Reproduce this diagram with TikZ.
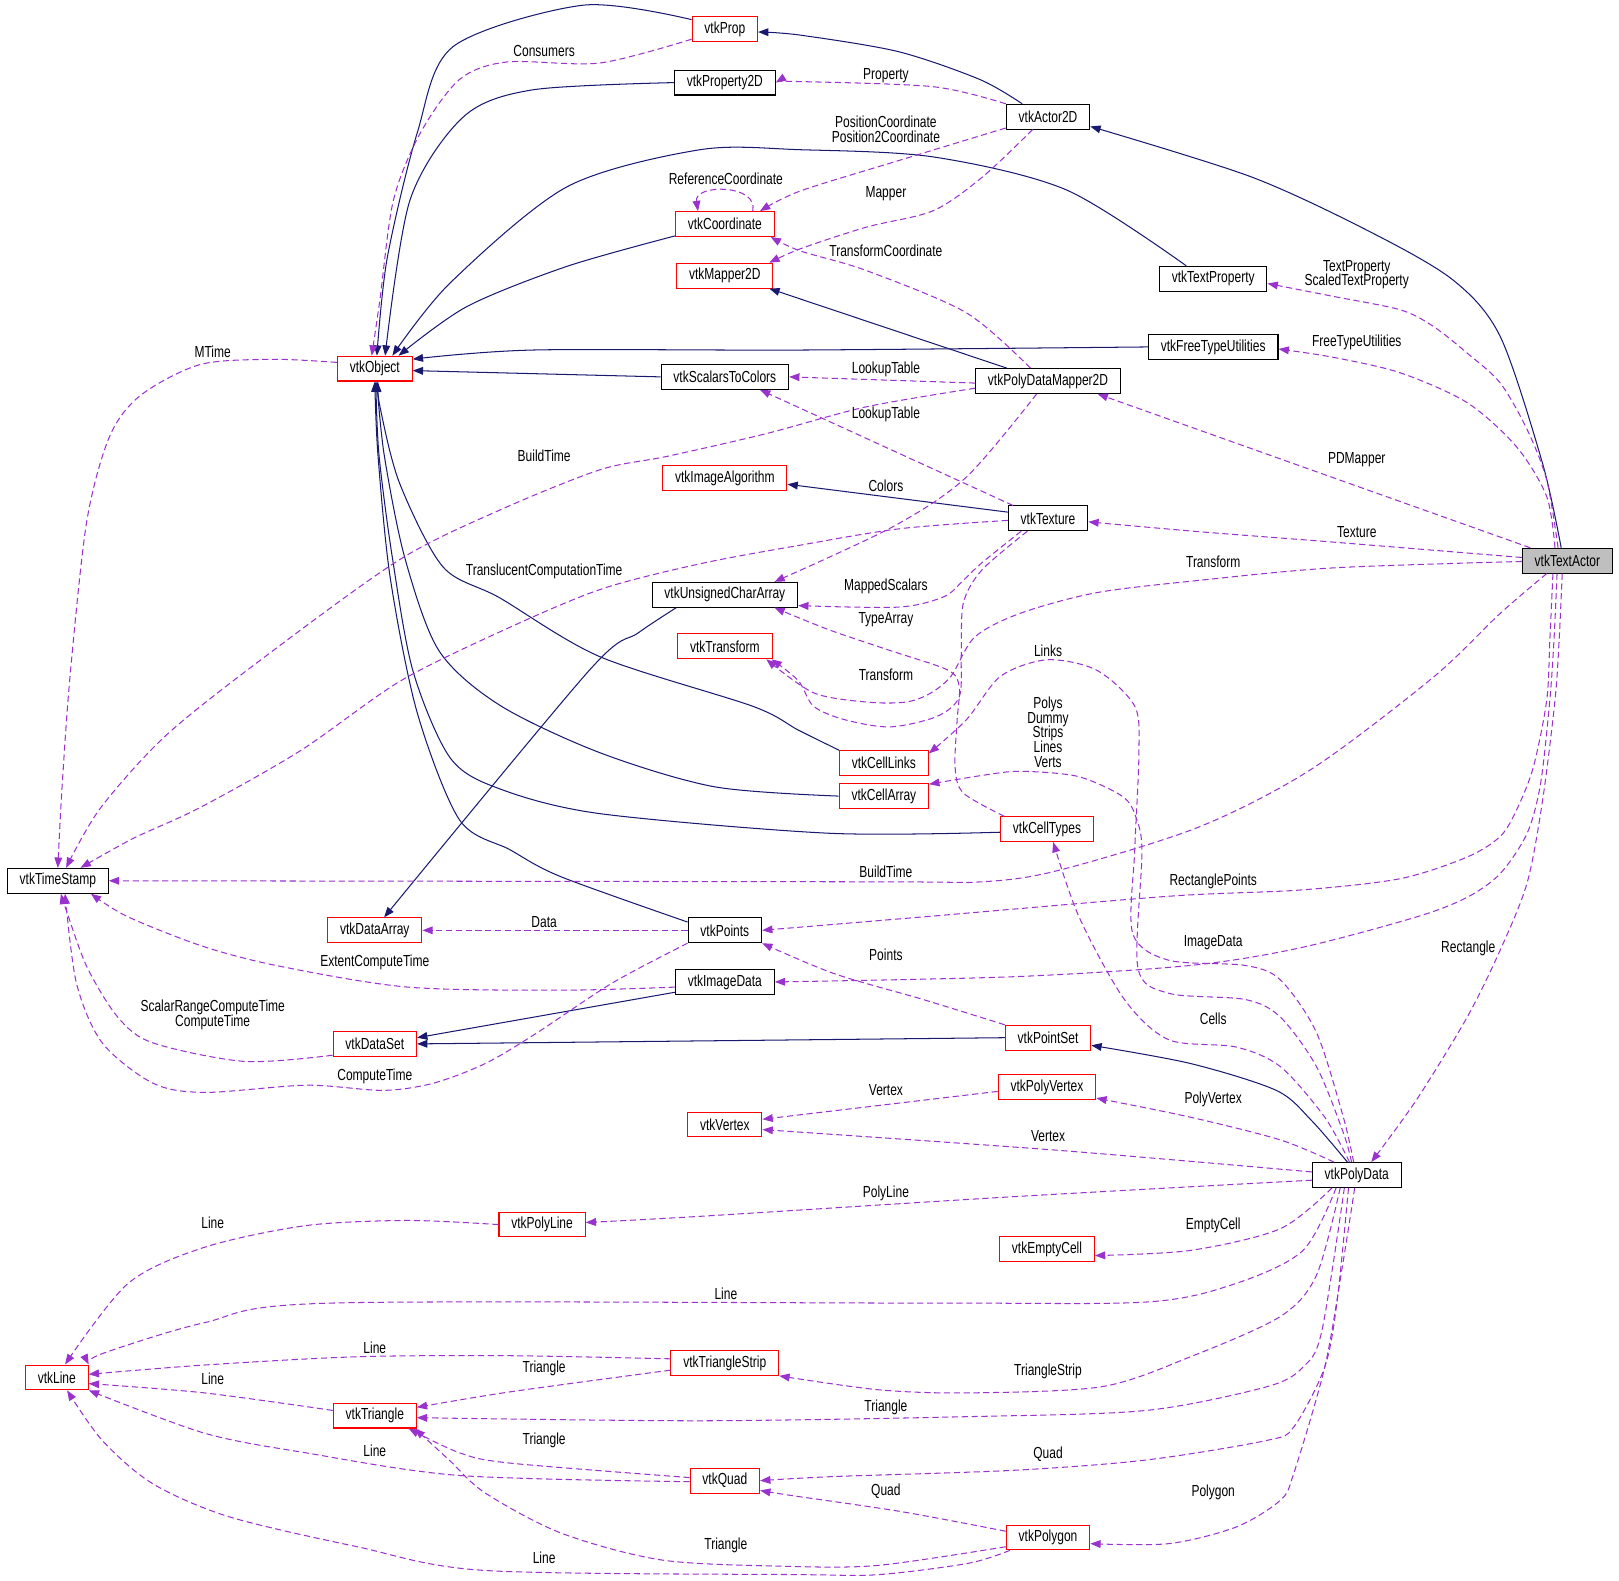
\documentclass[tikz,border=0pt]{standalone}
\usepackage{fontspec}
\setmainfont{Liberation Sans}[FakeStretch=0.75]
\usetikzlibrary{arrows.meta}
\definecolor{inhcol}{HTML}{191970}
\definecolor{usecol}{HTML}{9A32CD}
\newcommand{\dotfont}{\fontsize{15.5}{14.3}\selectfont\lineskiplimit=-8pt\relax}

\begin{document}
\begin{tikzpicture}[x=1pt, y=-1pt, every node/.style={font=\dotfont},
  cls/.style={draw=black, line width=1pt, minimum height=24pt, inner xsep=12pt, inner ysep=0pt},
  undoc/.style={cls, draw=red},
  inh/.style={draw=inhcol, line width=1pt, -{Triangle[length=10pt, width=7.5pt]}},
  uses/.style={draw=usecol, line width=1pt, dash pattern=on 6pt off 3.5pt, -{Triangle[length=10pt, width=7.5pt]}},
  lbl/.style={inner sep=0pt, align=center}]
  \useasboundingbox (0,0) rectangle (1568,1531);

  % classes
  \foreach \nm/\xx/\yy/\txt in {prop2d/702/80/vtkProperty2D, actor2d/1015/113/vtkActor2D,
      tprop/1175/270/vtkTextProperty, ftu/1175/336/vtkFreeTypeUtilities, s2c/702/365/vtkScalarsToColors,
      pdm2d/1015/369/vtkPolyDataMapper2D, texture/1015/502/vtkTexture, ucarr/702/576/vtkUnsignedCharArray,
      tstamp/56/853/vtkTimeStamp, points/702/901/vtkPoints, imgdata/702/951/vtkImageData, pdata/1314/1138/vtkPolyData}
    \node[cls] (\nm) at (\xx,\yy) {\txt};
  \foreach \nm/\xx/\yy/\txt in {prop/702/28/vtkProp, coord/702/217/vtkCoordinate, mapper2d/702/267/vtkMapper2D,
      obj/363/357/vtkObject, imgalg/702/463/vtkImageAlgorithm, xform/702/626/vtkTransform,
      clinks/856/739/vtkCellLinks, carray/856/771/vtkCellArray, ctypes/1014/803/vtkCellTypes,
      darray/363/901/vtkDataArray, dataset/363/1011/vtkDataSet, pset/1015/1005/vtkPointSet,
      polyvtx/1014/1053/vtkPolyVertex, vertex/702/1089/vtkVertex, polyline/525/1186/vtkPolyLine,
      emptycell/1014/1210/vtkEmptyCell, line/55/1334/vtkLine, tristrip/702/1320/vtkTriangleStrip,
      triangle/363/1371/vtkTriangle, quad/702/1434/vtkQuad, polygon/1015/1489/vtkPolygon}
    \node[undoc] (\nm) at (\xx,\yy) {\txt};
  \node[cls, fill=black!25] (tactor) at (1518,543) {vtkTextActor};

  % inheritance
  \draw[inh] plot[smooth] coordinates {([xshift=-25pt]actor2d.north) (949,77) (870,50) (775,34) ([yshift=-3pt]prop.east)};
  \draw[inh] plot[smooth] coordinates {([xshift=-6pt]tactor.north) (1494,449) (1453,326) (1407,271) (1324,223) (1211,171) (actor2d.-13)};
  \draw[inh] plot[smooth] coordinates {([yshift=9pt]prop.west) (565,5) (439,45) (404,129) (375,250) ([xshift=2pt]obj.north)};
  \draw[inh] plot[smooth] coordinates {(prop2d.west) (516,87) (449,113) (397,194) ([xshift=10pt]obj.north)};
  \draw[inh] plot[smooth] coordinates {([xshift=-26pt]tprop.north) (1033,184) (904,152) (775,145) (678,145) (549,181) (436,274) ([xshift=17pt]obj.north)};
  \draw[inh] plot[smooth] coordinates {([yshift=1pt]coord.south west) (549,258) (452,297) ([xshift=23pt]obj.north)};
  \draw[inh] plot[smooth] coordinates {(ftu.west) (775,339) (516,339) (obj.14)};
  \draw[inh] (s2c.west) -- (obj.-3);
  \draw[inh] ([xshift=-40pt]pdm2d.north) -- ([xshift=-4pt]mapper2d.south east);
  \draw[inh] ([yshift=6pt]texture.west) -- ([yshift=-6pt]imgalg.east);
  \draw[inh] plot[smooth] coordinates {(clinks.north west) (773,707) (729,684) (581,636) (484,579) (429,549) (387,468) (368,394) ([xshift=3pt]obj.south)};
  \draw[inh] plot[smooth] coordinates {(carray.west) (692,762) (581,729) (484,683) (425,630) (392,540) (372,440) ([xshift=2pt]obj.south)};
  \draw[inh] plot[smooth] coordinates {([yshift=-3pt]ctypes.west) (803,807) (581,788) (484,764) (436,734) (400,650) (380,540) (367,440) ([xshift=1pt]obj.south)};
  \draw[inh] plot[smooth] coordinates {([yshift=8pt]points.west) (543,849) (494,823) (445,794) (404,690) (378,560) (366,440) (obj.south)};
  \draw[inh] plot[smooth] coordinates {([xshift=-47pt]ucarr.south) (618,613) (570,650) ([xshift=9pt]darray.north)};
  \draw[inh] ([yshift=-10pt]imgdata.west) -- ([yshift=6pt]dataset.east);
  \draw[inh] (pset.west) -- (dataset.east);
  \draw[inh] plot[smooth] coordinates {([xshift=-9pt]pdata.north) (1270,1085) (1236,1056) (1153,1030) (pset.-10)};

  % members, upper part
  \draw[uses] plot[smooth] coordinates {(actor2d.north west) (904,84) (775,79) (prop2d.east)};
  \draw[uses] plot[smooth] coordinates {(actor2d.195) (872,155) (775,185) ([xshift=34pt]coord.north)};
  \draw[uses] ([xshift=27pt]coord.north) .. controls (735,178) and (672,178) .. ([xshift=-26pt]coord.north);
  \draw[uses] plot[smooth] coordinates {([xshift=-15pt]actor2d.south) (952,171) (904,204) (839,220) (775,241) ([xshift=-4pt]mapper2d.north east)};
  \draw[uses] plot[smooth] coordinates {([xshift=-17pt]pdm2d.north) (936,303) (839,262) (775,243) ([xshift=-4pt]coord.south east)};
  \draw[uses] plot[smooth] coordinates {([yshift=-10pt]prop.west) (581,61) (491,60) (445,77) (407,129) (381,194) (368,290) ([xshift=-3pt]obj.north)};
  \draw[uses] plot[smooth] coordinates {([xshift=-9pt]tactor.north) (1498,465) (1479,416) (1453,371) (1421,342) (1388,316) (1356,300) (1291,287) (tprop.-5)};
  \draw[uses] plot[smooth] coordinates {([xshift=-12pt]tactor.north) (1498,481) (1469,433) (1421,390) (1356,361) (1291,346) ([yshift=-2pt]ftu.east)};
  \draw[uses] ([yshift=-2pt]pdm2d.west) -- (s2c.east);
  \draw[uses] ([xshift=5pt]texture.north west) -- ([xshift=34pt]s2c.south);
  \draw[uses] ([xshift=-36pt]tactor.north) -- ([xshift=48pt]pdm2d.south);
  \draw[uses] plot[smooth] coordinates {([xshift=-11pt]pdm2d.south) (936,462) (865,510) ([xshift=48pt]ucarr.north)};
  \draw[uses] plot[smooth] coordinates {(tactor.176) (1291,525) (1162,515) (texture.-5)};
  \draw[uses] plot[smooth] coordinates {([yshift=6pt]obj.west) (265,348) (194,353) (136,383) (106,423) (84,505) (68,653) (60,764) (tstamp.north)};
  \draw[uses] plot[smooth] coordinates {([yshift=-7pt]pdm2d.west) (839,394) (742,420) (646,442) (581,455) (484,494) (387,542) (258,635) (161,712) (97,783) ([xshift=8pt]tstamp.north)};
  \draw[uses] plot[smooth] coordinates {([yshift=-2pt]texture.west) (872,512) (775,528) (678,546) (581,571) (484,612) (387,660) (291,727) (194,782) (129,812) ([xshift=22pt]tstamp.north)};

  % members, middle part
  \draw[uses] plot[smooth] coordinates {(tactor.181) (1291,550) (1162,562) (1062,574) (988,594) (944,617) (921,655) (900,672) (877,680) (840,680) (788,671) ([xshift=-6pt]xform.south east)};
  \draw[uses] plot[smooth] coordinates {([xshift=-20pt]texture.south) (951,552) (933,584) (931,633) (929,675) (907,694) (862,704) (818,697) (788,684) (773,659) ([xshift=-1pt]xform.south east)};
  \draw[uses] plot[smooth] coordinates {([xshift=-26pt]texture.south) (951,545) (933,562) (914,578) (870,588) ([yshift=2pt]ucarr.south east)};
  \draw[uses] plot[smooth] coordinates {([xshift=4pt]ctypes.north west) (933,768) (925,743) (927,697) (929,665) (918,649) (862,630) (803,610) ([xshift=48pt]ucarr.south)};
  \draw[uses] plot[smooth] coordinates {([xshift=-3pt]pdata.north) (1301,1082) (1275,1000) (1240,949) (1206,935) (1132,930) (1097,904) (1099,823) (1103,730) (1099,684) (1062,649) (1014,639) (969,655) (936,697) (clinks.12)};
  \draw[uses] plot[smooth] coordinates {([xshift=-5pt]pdata.north) (1301,1097) (1275,1033) (1240,985) (1206,968) (1132,962) (1102,937) (1106,826) (1101,794) (1088,772) (1044,752) (988,747) (951,751) ([yshift=-1pt]carray.north east)};
  \draw[uses] plot[smooth] coordinates {([xshift=-7pt]pdata.north) (1283,1082) (1240,1033) (1197,1014) (1132,1007) (1089,968) (1045,888) ([xshift=6pt]ctypes.south)};
  \draw[uses] plot[smooth] coordinates {([xshift=-10pt]tactor.south) (1505,620) (1501,678) (1492,759) (1479,807) (1453,846) (1421,869) (1372,888) (1259,918) (1153,935) (980,946) (imgdata.east)};
  \draw[uses] plot[smooth] coordinates {([xshift=-14pt]tactor.south) (1501,620) (1498,678) (1485,743) (1469,784) (1453,810) (1421,830) (1356,851) (1259,862) (1132,868) (894,888) (points.east)};
  \draw[uses] plot[smooth] coordinates {([xshift=-20pt]tactor.south) (1453,594) (1388,656) (1270,745) (1161,801) (1025,843) (951,854) (840,854) (tstamp.east)};
  \draw[uses] plot[smooth] coordinates {([xshift=-5pt]tactor.south) (1510,620) (1506,678) (1494,775) (1479,855) (1453,920) (1421,985) (1372,1065) ([xshift=14pt]pdata.north)};
  \draw[uses] plot[smooth] coordinates {([yshift=-5pt]imgdata.west) (544,959) (395,956) (272,936) (198,917) (124,888) ([xshift=32pt]tstamp.south)};
  \draw[uses] plot[smooth] coordinates {([yshift=-11pt]dataset.west) (237,1028) (148,1010) (114,985) (84,936) (64,881) ([xshift=3pt]tstamp.south)};
  \draw[uses] plot[smooth] coordinates {(points.south west) (593,952) (519,1001) (470,1030) (420,1049) (371,1056) (297,1051) (198,1058) (148,1049) (99,1010) (74,952) ([xshift=7pt]tstamp.south)};
  \draw[uses] (points.west) -- (darray.east);
  \draw[uses] plot[smooth] coordinates {(pset.north west) (894,968) (808,943) (points.south east)};

  % members, cells
  \draw[uses] ([yshift=-4pt]polyvtx.west) -- ([yshift=5pt]vertex.east);
  \draw[uses] plot[smooth] coordinates {([xshift=-22pt]pdata.north) (1240,1104) (1153,1082) ([yshift=2pt]polyvtx.south east)};
  \draw[uses] plot[smooth] coordinates {([yshift=3pt]pdata.west) (1024,1114) ([yshift=-5pt]vertex.east)};
  \draw[uses] plot[smooth] coordinates {([yshift=-5pt]pdata.west) (981,1159) (678,1178) ([yshift=2pt]polyline.east)};
  \draw[uses] plot[smooth] coordinates {([xshift=-24pt]pdata.south) (1240,1190) (1153,1211) ([yshift=-6pt]emptycell.east)};
  \draw[uses] plot[smooth] coordinates {([xshift=-20pt]pdata.south) (1262,1211) (1197,1243) (1110,1261) (894,1262) (321,1262) (198,1281) (99,1311) (line.north east)};
  \draw[uses] plot[smooth] coordinates {([xshift=-16pt]pdata.south) (1275,1235) (1240,1275) (1153,1314) (1067,1343) (938,1349) (851,1346) (tristrip.south east)};
  \draw[uses] plot[smooth] coordinates {([xshift=-12pt]pdata.south) (1280,1290) (1262,1324) (1227,1343) (1110,1366) (938,1372) (678,1376) ([yshift=-2pt]triangle.east)};
  \draw[uses] plot[smooth] coordinates {([xshift=-8pt]pdata.south) (1295,1260) (1283,1324) (1253,1382) (1227,1395) (1110,1414) (981,1424) (808,1430) (quad.east)};
  \draw[uses] plot[smooth] coordinates {([xshift=-2pt]pdata.south) (1300,1227) (1283,1324) (1253,1427) (1240,1453) (1197,1479) (1132,1495) ([yshift=-6pt]polygon.east)};
  \draw[uses] plot[smooth] coordinates {(polyline.west) (395,1182) (296,1187) (198,1208) (124,1243) ([xshift=8pt]line.north)};
  \draw[uses] plot[smooth] coordinates {([yshift=4pt]tristrip.west) (494,1313) (346,1314) (198,1322) ([yshift=3pt]line.east)};
  \draw[uses] plot[smooth] coordinates {([yshift=-7pt]tristrip.west) (494,1348) ([yshift=8pt]triangle.east)};
  \draw[uses] plot[smooth] coordinates {([yshift=5pt]triangle.west) (198,1349) ([yshift=-6pt]line.east)};
  \draw[uses] plot[smooth] coordinates {([yshift=3pt]quad.west) (494,1417) (445,1407) ([xshift=-8pt]triangle.south east)};
  \draw[uses] plot[smooth] coordinates {([yshift=-1pt]quad.west) (445,1429) (296,1407) (198,1388) (line.south east)};
  \draw[uses] plot[smooth] coordinates {([yshift=6pt]polygon.west) (873,1464) (764,1448) ([yshift=3pt]quad.south east)};
  \draw[uses] plot[smooth] coordinates {([yshift=-9pt]polygon.west) (851,1516) (764,1517) (642,1511) (544,1485) (470,1446) (435,1414) ([xshift=-2pt]triangle.south east)};
  \draw[uses] plot[smooth] coordinates {([xshift=4pt]polygon.south west) (938,1514) (851,1525) (775,1525) (470,1521) (346,1498) (222,1469) (148,1437) (99,1395) ([xshift=10pt]line.south)};

  % member names
  \foreach \nm/\xx/\yy/\txt in {consumers/527/49/Consumers, property/858/73/Property,
      poscoord/858/125/{PositionCoordinate\\Position2Coordinate}, refcoord/703/173/ReferenceCoordinate,
      mapper/858/188/Mapper, xfcoord/858/243/TransformCoordinate,
      textprop/1314/266/{TextProperty\\ScaledTextProperty}, ftutil/1314/332/FreeTypeUtilities,
      mtime/206/341/MTime, lut1/858/358/LookupTable, lut2/858/401/LookupTable,
      build1/527/441/BuildTime, pdmapper/1314/445/PDMapper, colors/858/470/Colors,
      texture/1314/515/Texture, xform1/1175/544/Transform, transl/527/553/TranslucentComputationTime,
      mapped/858/568/MappedScalars, typearr/858/600/TypeArray, links/1015/630/Links,
      xform2/858/654/Transform, cells1/1015/709/{Polys\\Dummy\\Strips\\Lines\\Verts},
      build2/858/844/BuildTime, rectpts/1175/854/RectanglePoints, data/527/893/Data,
      imgdata/1175/913/ImageData, rect/1422/918/Rectangle, points/858/925/Points,
      extent/363/932/ExtentComputeTime, srange/206/983/{ScalarRangeComputeTime\\ComputeTime},
      cells2/1175/987/Cells, ctime/363/1042/ComputeTime, vertex1/858/1056/Vertex,
      polyvtx/1175/1065/PolyVertex, vertex2/1015/1100/Vertex, polyline/858/1156/PolyLine,
      line1/206/1184/Line, emptycell/1175/1187/EmptyCell, line2/703/1253/Line,
      line3/363/1305/Line, tri1/527/1325/Triangle, tristrip/1015/1328/TriangleStrip,
      line4/206/1335/Line, tri2/858/1363/Triangle, tri3/527/1395/Triangle, line5/363/1405/Line,
      quad1/1015/1408/Quad, quad2/858/1444/Quad, polygon/1175/1445/Polygon,
      tri4/703/1497/Triangle, line6/527/1509/Line}
    \node[lbl] (l-\nm) at (\xx,\yy) {\txt};
\end{tikzpicture}
\end{document}
